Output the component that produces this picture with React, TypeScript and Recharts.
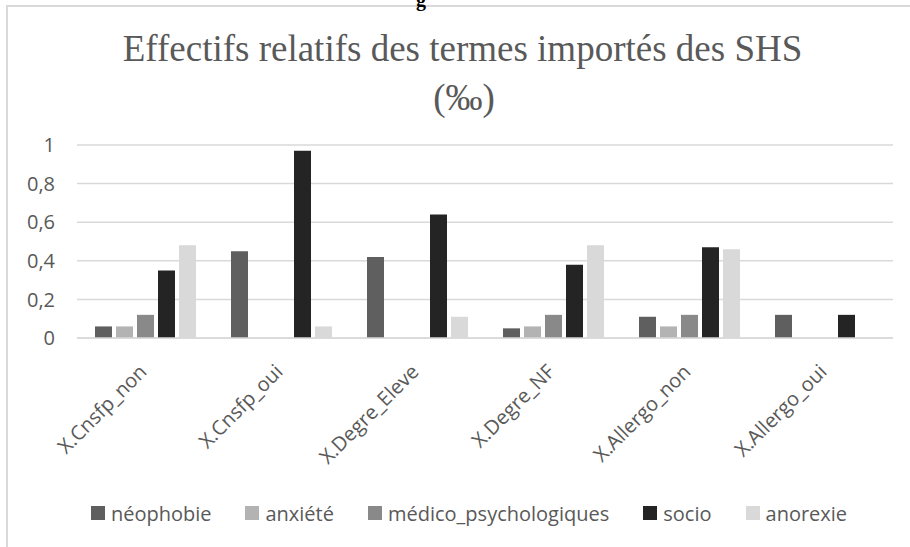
import React from 'react';
import { BarChart, Bar, XAxis, YAxis, CartesianGrid, Legend } from 'recharts';

const categories = ['X.Cnsfp_non', 'X.Cnsfp_oui', 'X.Degre_Eleve', 'X.Degre_NF', 'X.Allergo_non', 'X.Allergo_oui'];
const neophobie = [0.06, 0.45, 0.42, 0.05, 0.11, 0.12];
const anxiete = [0.06, 0, 0, 0.06, 0.06, 0];
const medico = [0.12, 0, 0, 0.12, 0.12, 0];
const socio = [0.35, 0.97, 0.64, 0.38, 0.47, 0.12];
const anorexie = [0.48, 0.06, 0.11, 0.48, 0.46, 0];
const yTicks = [0, 0.2, 0.4, 0.6, 0.8, 1];

const seriesNames = ['néophobie', 'anxiété', 'médico_psychologiques', 'socio', 'anorexie'];
const seriesValues = [neophobie, anxiete, medico, socio, anorexie];
const seriesColors = ['#5f5f5f', '#b3b3b3', '#898989', '#242424', '#d9d9d9'];

const data = categories.map((c, i) => {
  const row: Record<string, any> = { cat: c };
  seriesNames.forEach((n, k) => { row[n] = seriesValues[k][i]; });
  return row;
});

const W = 910;
const H = 547;
const TEXT = '#595959';
const FONT = '"Open Sans", sans-serif';

const XTick = (props: any) => {
  const { x, y, payload } = props;
  const ax = x + 3;
  const ay = y + 35;
  return (
    <text x={ax} y={ay} transform={`rotate(-45 ${ax} ${ay})`} textAnchor="end" fill={TEXT} fontSize={20} fontFamily={FONT}>
      {payload.value}
    </text>
  );
};

const LegendContent = (props: any) => {
  const raw = props.payload || [];
  const payload = [...raw].sort((a: any, b: any) => seriesNames.indexOf(a.value) - seriesNames.indexOf(b.value));
  return (
    <div style={{ display: 'flex', justifyContent: 'center', alignItems: 'center', height: 30, paddingLeft: 28, fontFamily: FONT, fontSize: 20, color: TEXT }}>
      {payload.map((p: any, i: number) => (
        <div key={i} style={{ display: 'flex', alignItems: 'center', marginRight: i < payload.length - 1 ? 34 : 0 }}>
          <span style={{ display: 'inline-block', width: 14, height: 14, background: p.color, marginRight: 6 }} />
          <span>{p.value}</span>
        </div>
      ))}
    </div>
  );
};

export default function App() {
  return (
    <div style={{ position: 'absolute', left: 0, top: 0, width: W, height: H, background: '#fff', overflow: 'hidden', fontFamily: FONT }}>
      <div style={{ position: 'absolute', left: 6, top: 5, width: 1200, height: 1200, borderLeft: '2px solid #d9d9d9', borderTop: '2px solid #d9d9d9' }} />
      <BarChart width={W} height={H} data={data} margin={{ top: 145, right: 17, bottom: 20, left: 0 }} barCategoryGap={18} barGap={4}>
        <CartesianGrid vertical={false} stroke="#d9d9d9" strokeWidth={1.5} />
        <XAxis dataKey="cat" interval={0} height={159} tickLine={false} tickSize={0} tickMargin={0}
          axisLine={{ stroke: '#d9d9d9', strokeWidth: 1.5 }} tick={<XTick />} />
        <YAxis domain={[0, 1]} ticks={yTicks} width={77} axisLine={false} tickLine={false} tickSize={0} tickMargin={22}
          tick={{ fill: TEXT, fontSize: 20, fontFamily: FONT }} tickFormatter={(v: number) => String(v).replace('.', ',')} />
        <Legend content={<LegendContent />} wrapperStyle={{ top: 498, left: 0, width: W, height: 30 }} />
        {seriesNames.map((n, k) => (
          <Bar key={n} dataKey={n} fill={seriesColors[k]} isAnimationActive={false} />
        ))}
      </BarChart>
      <svg width={W} height={H} style={{ position: 'absolute', left: 0, top: 0, pointerEvents: 'none' }}>
        <text x={421} y={6} textAnchor="middle" fontFamily='"Liberation Serif", serif' fontWeight="bold" fontSize={20} fill="#000">g</text>
        <text x={462.5} y={61} textAnchor="middle" fontFamily='"Liberation Serif", serif' fontSize={37} fill={TEXT}>Effectifs relatifs des termes importés des SHS</text>
        <text x={464} y={110} textAnchor="middle" fontFamily='"Liberation Serif", serif' fontSize={37} fill={TEXT}>(‰)</text>
      </svg>
    </div>
  );
}
